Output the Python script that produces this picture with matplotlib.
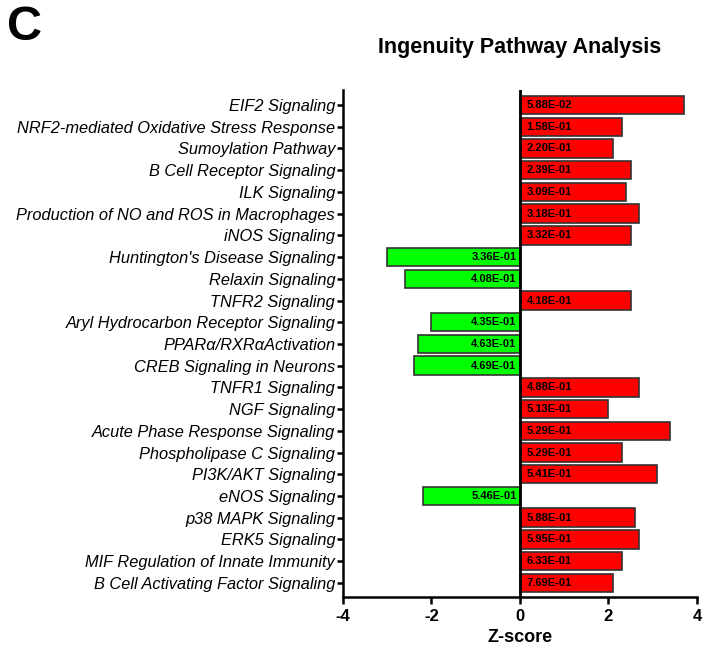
import matplotlib
matplotlib.use("Agg")
import matplotlib.pyplot as plt
import numpy as np

plt.rcParams['font.family'] = ['Liberation Sans', 'DejaVu Sans']

pathways = [
    "EIF2 Signaling",
    "NRF2-mediated Oxidative Stress Response",
    "Sumoylation Pathway",
    "B Cell Receptor Signaling",
    "ILK Signaling",
    "Production of NO and ROS in Macrophages",
    "iNOS Signaling",
    "Huntington's Disease Signaling",
    "Relaxin Signaling",
    "TNFR2 Signaling",
    "Aryl Hydrocarbon Receptor Signaling",
    "PPARα/RXRαActivation",
    "CREB Signaling in Neurons",
    "TNFR1 Signaling",
    "NGF Signaling",
    "Acute Phase Response Signaling",
    "Phospholipase C Signaling",
    "PI3K/AKT Signaling",
    "eNOS Signaling",
    "p38 MAPK Signaling",
    "ERK5 Signaling",
    "MIF Regulation of Innate Immunity",
    "B Cell Activating Factor Signaling",
]
zscores = [3.7, 2.3, 2.1, 2.5, 2.4, 2.7, 2.5, -3.0, -2.6, 2.5, -2.0, -2.3, -2.4,
           2.7, 2.0, 3.4, 2.3, 3.1, -2.2, 2.6, 2.7, 2.3, 2.1]
pvalues = ["5.88E-02", "1.58E-01", "2.20E-01", "2.39E-01", "3.09E-01", "3.18E-01",
           "3.32E-01", "3.36E-01", "4.08E-01", "4.18E-01", "4.35E-01", "4.63E-01",
           "4.69E-01", "4.88E-01", "5.13E-01", "5.29E-01", "5.29E-01", "5.41E-01",
           "5.46E-01", "5.88E-01", "5.95E-01", "6.33E-01", "7.69E-01"]

fig = plt.figure(figsize=(7.04, 6.51), dpi=100)
ax = fig.add_axes([0.487, 0.083, 0.503, 0.779])

y = np.arange(len(pathways))
colors = ['#ff0000' if z > 0 else '#00ff00' for z in zscores]
ax.barh(y, zscores, height=0.85, color=colors, edgecolor='#333333', linewidth=1.2)

for yi, z, p in zip(y, zscores, pvalues):
    if z > 0:
        ax.text(0.15, yi, p, ha='left', va='center', fontsize=8, fontweight='bold')
    else:
        ax.text(-0.08, yi, p, ha='right', va='center', fontsize=8, fontweight='bold')

ax.axvline(0, color='black', linewidth=2)
ax.set_xlim(-4, 4)
ax.set_ylim(len(pathways) - 0.35, -0.7)
ax.set_yticks(y)
ax.set_yticklabels(pathways, fontsize=11.8, fontstyle='italic')
ax.set_xticks([-4, -2, 0, 2, 4])
ax.set_xticklabels(['-4', '-2', '0', '2', '4'], fontsize=12, fontweight='bold')
ax.tick_params(axis='y', width=1.8, length=4, direction='out', pad=1.5)
ax.tick_params(axis='x', width=1.8, length=5, direction='out')
ax.spines['top'].set_visible(False)
ax.spines['right'].set_visible(False)
ax.spines['left'].set_linewidth(1.8)
ax.spines['bottom'].set_linewidth(1.8)
ax.set_xlabel('Z-score', fontsize=13, fontweight='bold')

fig.text(0.738, 0.927, 'Ingenuity Pathway Analysis', ha='center', va='center',
         fontsize=15.5, fontweight='bold')
fig.text(0.010, 0.957, 'C', ha='left', va='center', fontsize=35, fontweight='bold')

fig.savefig('out.png', dpi=100)
